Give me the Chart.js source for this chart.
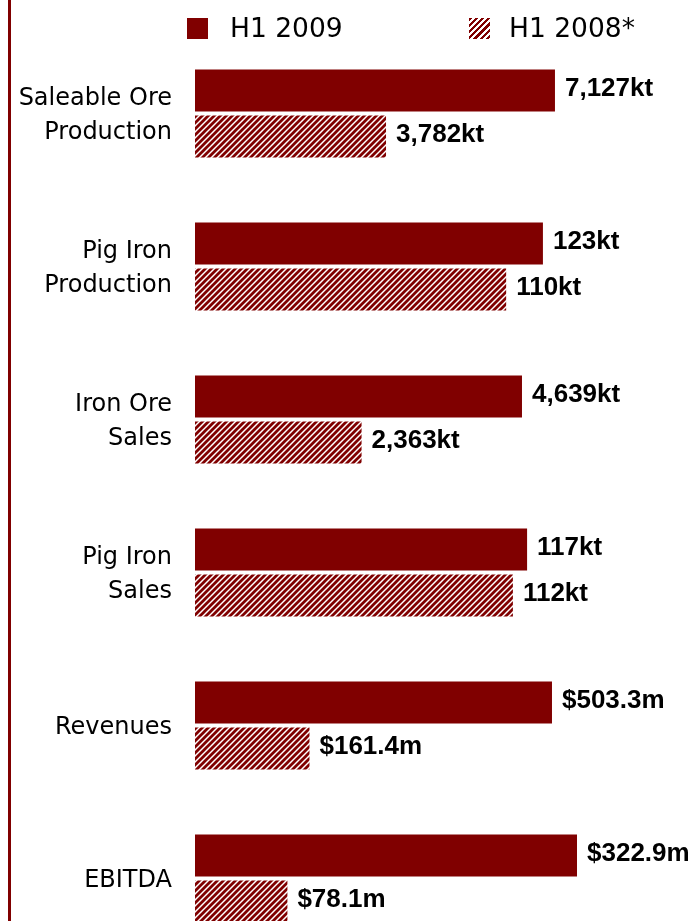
<!DOCTYPE html>
<html lang="en">
<head>
    <meta charset="UTF-8">
    <title>H1 2009 vs H1 2008</title>
    <script src="https://cdn.jsdelivr.net/npm/chart.js"></script>
    <style>
        body {
            margin: 0;
            overflow: hidden;
            background: #fff;
            font-family: "DejaVu Sans", sans-serif;
        }
        #wrap {
            position: relative;
            width: 692px;
            height: 960px;
        }
        #chart {
            display: block;
        }
        #leftLine {
            position: absolute;
            left: 8px;
            top: 0;
            width: 3px;
            height: 960px;
            background: #800000;
        }
        .legend-item {
            position: absolute;
            top: 13px;
            font-size: 26.5px;
            line-height: 30px;
            color: #000;
            white-space: nowrap;
        }
        .legend-box {
            position: absolute;
            top: 18px;
            width: 21px;
            height: 21px;
        }
        #box2009 { left: 187px; background: #800000; }
        #box2008 {
            left: 469px;
            background: repeating-linear-gradient(135deg, #800000 0 2.3px, #fff 2.3px 4.4px);
        }
    </style>
</head>
<body>
<div id="wrap">
    <div id="leftLine"></div>
    <div class="legend-box" id="box2009"></div>
    <div class="legend-item" style="left:230px">H1 2009</div>
    <div class="legend-box" id="box2008"></div>
    <div class="legend-item" style="left:509px">H1 2008*</div>
    <canvas id="chart" width="692" height="960"></canvas>
</div>

<script>
    // categories
    const categories = [
        ['Saleable Ore', 'Production'],
        ['Pig Iron', 'Production'],
        ['Iron Ore', 'Sales'],
        ['Pig Iron', 'Sales'],
        'Revenues',
        'EBITDA'
    ];
    // values as printed on the chart
    const h1_2009 = [7127, 123, 4639, 117, 503.3, 322.9];
    const h1_2008 = [3782, 110, 2363, 112, 161.4, 78.1];
    const units = ['kt', 'kt', 'kt', 'kt', 'm', 'm'];
    // every row has its own scale: value that would fill the whole width
    const rowScale = [9840, 175.7, 7051, 175.1, 700.7, 420.1];

    const maroon = '#800000';

    function fmt(v, i) {
        if (units[i] === 'm') return '$' + v.toFixed(1) + 'm';
        return v.toLocaleString('en-US') + 'kt';
    }

    function makeHatch() {
        const c = document.createElement('canvas');
        c.width = 6;
        c.height = 6;
        const g = c.getContext('2d');
        g.fillStyle = '#fff';
        g.fillRect(0, 0, 6, 6);
        g.strokeStyle = maroon;
        g.lineWidth = 2.8;
        g.beginPath();
        g.moveTo(-1, 7); g.lineTo(7, -1);
        g.moveTo(-4, 4); g.lineTo(4, -4);
        g.moveTo(2, 10); g.lineTo(10, 2);
        g.stroke();
        return g.createPattern(c, 'repeat');
    }

    // draws the value text to the right of each bar
    const valueLabels = {
        id: 'valueLabels',
        afterDatasetsDraw(chart) {
            const ctx = chart.ctx;
            ctx.save();
            ctx.font = 'bold 26px "Liberation Sans", Arial, sans-serif';
            ctx.fillStyle = '#000';
            ctx.textBaseline = 'middle';
            ctx.textAlign = 'left';
            chart.data.datasets.forEach((ds, d) => {
                const raw = d === 0 ? h1_2009 : h1_2008;
                chart.getDatasetMeta(d).data.forEach((bar, i) => {
                    ctx.fillText(fmt(raw[i], i), bar.x + 10, bar.y - 2);
                });
            });
            ctx.restore();
        }
    };

    const ctx = document.getElementById('chart').getContext('2d');
    new Chart(ctx, {
        type: 'bar',
        data: {
            labels: categories,
            datasets: [{
                label: 'H1 2009',
                data: h1_2009.map((v, i) => v / rowScale[i]),
                backgroundColor: maroon,
                borderWidth: 0
            }, {
                label: 'H1 2008*',
                data: h1_2008.map((v, i) => v / rowScale[i]),
                backgroundColor: makeHatch(),
                borderWidth: 0
            }]
        },
        options: {
            indexAxis: 'y',
            responsive: false,
            animation: false,
            categoryPercentage: 0.604,
            barPercentage: 0.909,
            layout: {
                padding: { top: 37, bottom: 5, left: 0, right: 0 }
            },
            plugins: {
                legend: { display: false },
                tooltip: { enabled: false }
            },
            scales: {
                x: {
                    display: false,
                    min: 0,
                    max: 1
                },
                y: {
                    grid: { display: false, drawTicks: false },
                    border: { display: false },
                    ticks: {
                        padding: 23,
                        labelOffset: 2.5,
                        color: '#000',
                        font: { family: '"DejaVu Sans"', size: 24, lineHeight: 1.4 }
                    },
                    afterFit(scale) {
                        scale.width = 195;
                        scale.paddingTop = 0;
                        scale.paddingBottom = 0;
                    }
                }
            }
        },
        plugins: [valueLabels]
    });
</script>
</body>
</html>
